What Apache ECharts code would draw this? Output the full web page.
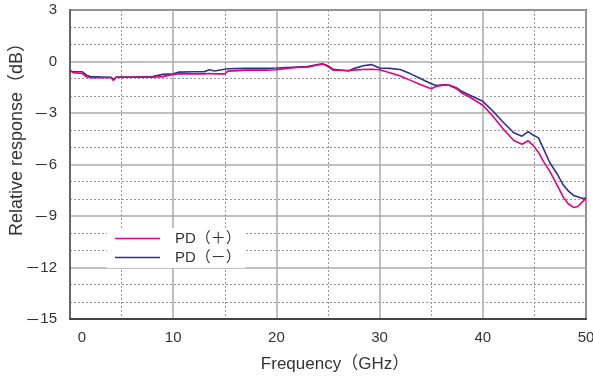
<!DOCTYPE html>
<html>
<head>
<meta charset="utf-8">
<script src="https://cdn.jsdelivr.net/npm/echarts@6/dist/echarts.min.js"></script>
<style>
  html, body { margin: 0; padding: 0; background: #fff; }
  #chart { width: 593px; height: 376px; }
</style>
</head>
<body>
<div id="chart"></div>
<script>
// frequency points (GHz), shared by both traces
const freq = [0, 0.3, 1.2, 1.6, 2, 3, 4, 4.2, 4.5, 6, 8, 9, 10, 10.5, 12, 13, 13.5, 14, 15, 15.3,
  17, 19, 20, 21, 22, 23, 24, 24.5, 25, 25.5, 27, 27.4, 28.4, 29.2, 30, 31, 32, 33, 34, 35,
  35.5, 36.2, 36.8, 37.5, 38, 38.8, 40, 41, 42, 43, 43.8, 44.4, 44.9, 45.4, 45.9, 46.5, 47.2,
  47.8, 48.3, 48.8, 49.2, 49.7, 50];

const pdPlus = [-0.5, -0.65, -0.7, -0.9, -0.95, -0.95, -0.95, -1.1, -0.92, -0.92, -0.92, -0.88,
  -0.75, -0.72, -0.72, -0.72, -0.7, -0.72, -0.72, -0.56, -0.5, -0.5, -0.48, -0.4, -0.35, -0.33,
  -0.2, -0.15, -0.3, -0.5, -0.52, -0.5, -0.47, -0.45, -0.48, -0.66, -0.85, -1.1, -1.36, -1.59,
  -1.45, -1.36, -1.4, -1.6, -1.85, -2.1, -2.55, -3.2, -3.95, -4.6, -4.82, -4.62, -4.9, -5.3,
  -5.85, -6.4, -7.2, -7.9, -8.3, -8.5, -8.45, -8.15, -7.95];

const pdMinus = [-0.55, -0.6, -0.6, -0.8, -0.88, -0.9, -0.92, -1.05, -0.9, -0.9, -0.88, -0.75,
  -0.72, -0.62, -0.6, -0.6, -0.48, -0.55, -0.45, -0.42, -0.4, -0.4, -0.38, -0.35, -0.32, -0.3,
  -0.18, -0.14, -0.25, -0.45, -0.55, -0.43, -0.25, -0.18, -0.38, -0.4, -0.47, -0.72, -1.0, -1.3,
  -1.4, -1.36, -1.38, -1.55, -1.75, -1.98, -2.32, -2.9, -3.55, -4.15, -4.35, -4.08, -4.3, -4.45,
  -5.1, -5.9, -6.55, -7.2, -7.55, -7.8, -7.88, -7.98, -7.95];

const seriesNames = ["PD（＋）", "PD（－）"];
const yTitle = "Relative response（dB）";
const xTitle = "Frequency（GHz）";

const font = "'Liberation Sans', 'Noto Sans CJK JP', sans-serif";
const textColor = "#333";

const chart = echarts.init(document.getElementById("chart"));

const option = {
  animation: false,
  grid: {
    left: 70, right: 7, top: 10, bottom: 57,
    outerBoundsMode: "none",
    containLabel: false,
    show: true, borderColor: "#555", borderWidth: 2
  },
  // y title placed by hand: it sits above the plot's middle in the original
  graphic: [{
    type: "text",
    x: 17, y: 135,
    rotation: Math.PI / 2,
    style: {
      text: yTitle, fontFamily: font, fontSize: 18, fill: textColor,
      align: "center", verticalAlign: "middle"
    }
  }],
  legend: {
    data: seriesNames,
    orient: "vertical",
    left: 107, top: 228,
    backgroundColor: "#fff",
    padding: [3, 4, 3, 8],
    icon: "rect",
    itemWidth: 45, itemHeight: 1.6, itemGap: 4,
    textStyle: { fontFamily: font, fontSize: 15, color: textColor, padding: [0, 0, 0, 10] }
  },
  xAxis: {
    type: "value",
    min: 0, max: 50, interval: 10,
    name: xTitle,
    nameLocation: "middle", nameGap: 37,
    nameTextStyle: { fontFamily: font, fontSize: 17, color: textColor, padding: [0, 0, 0, 14] },
    axisLine: { show: true, onZero: false, lineStyle: { color: "#444", width: 2 } },
    axisTick: { show: false },
    axisLabel: {
      margin: 11, fontFamily: font, fontSize: 15, color: textColor,
      formatter: v => v === 0 ? "{z|0}" : String(v),
      rich: { z: { fontFamily: font, fontSize: 15, color: textColor, padding: [0, 0, 0, 24] } }
    },
    splitLine: { show: true, lineStyle: { color: "#aaa", width: 1.5 } },
    minorTick: { show: false, splitNumber: 2 },
    minorSplitLine: { show: true, lineStyle: { color: "#999", width: 1, type: [2, 2] } }
  },
  yAxis: {
    type: "value",
    min: -15, max: 3, interval: 3,
    axisLine: { show: true, onZero: false, lineStyle: { color: "#666", width: 2 } },
    axisTick: { show: false },
    axisLabel: {
      margin: 13, fontFamily: font, fontSize: 15, color: textColor,
      formatter: v => v < 0 ? "{m|－}" + Math.abs(v) : String(v),
      rich: { m: { fontFamily: "'Noto Sans CJK JP'", fontSize: 15, color: textColor } }
    },
    splitLine: { show: true, lineStyle: { color: "#aaa", width: 1.5 } },
    minorTick: { show: false, splitNumber: 3 },
    minorSplitLine: { show: true, lineStyle: { color: "#999", width: 1, type: [2, 2] } }
  },
  series: [
    {
      name: seriesNames[0],
      type: "line",
      data: freq.map((f, i) => [f, pdPlus[i]]),
      symbol: "none",
      z: 3,
      lineStyle: { color: "#e6007e", width: 1.6 },
      itemStyle: { color: "#e6007e" }
    },
    {
      name: seriesNames[1],
      type: "line",
      data: freq.map((f, i) => [f, pdMinus[i]]),
      symbol: "none",
      z: 2,
      lineStyle: { color: "#2b338f", width: 1.6 },
      itemStyle: { color: "#2b338f" }
    }
  ]
};

chart.setOption(option);
</script>
</body>
</html>
